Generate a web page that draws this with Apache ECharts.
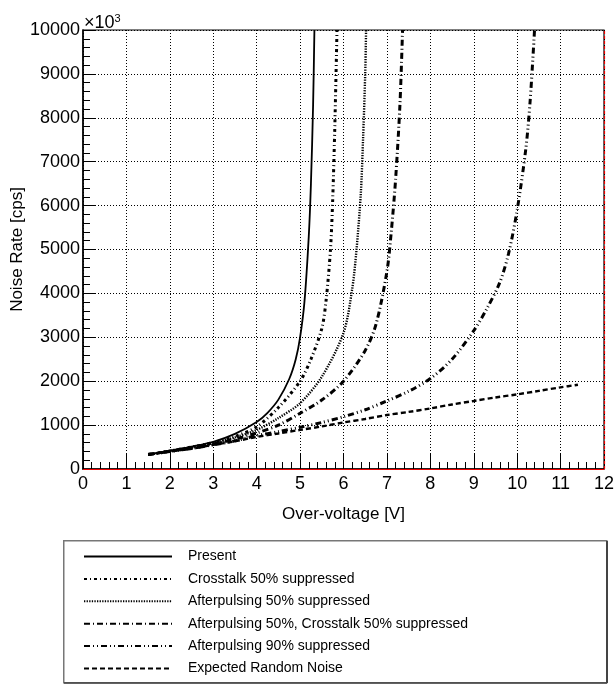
<!DOCTYPE html>
<html><head><meta charset="utf-8">
<script src="https://cdn.jsdelivr.net/npm/echarts@6/dist/echarts.min.js"></script>
<style>html,body{margin:0;padding:0;background:#fff}#c{width:616px;height:684px}</style>
</head><body><div id="c"></div>
<script>
// Data
var seriesNames = ["Present","Crosstalk 50% suppressed","Afterpulsing 50% suppressed","Afterpulsing 50%, Crosstalk 50% suppressed","Afterpulsing 90% suppressed","Expected Random Noise"];
var presentX = [1.5,2.0,2.5,3.0,3.5,4.0,4.25,4.5,4.75,4.9,5.0,5.1,5.2,5.25,5.3,5.33];
var presentY = [330,420,510,620,800,1070,1280,1580,2050,2500,3000,3800,5300,6500,8300,10000];
var crosstalkX = [1.5,2.0,2.5,3.0,3.5,4.0,4.5,5.0,5.25,5.5,5.6,5.7,5.75,5.8,5.85];
var crosstalkY = [330,410,500,600,740,960,1400,2000,2500,3200,3850,5000,6100,7800,10000];
var ap50X = [1.5,2.0,2.5,3.0,3.5,4.0,4.5,5.0,5.5,6.0,6.2,6.3,6.4,6.45,6.5,6.52];
var ap50Y = [330,410,490,590,720,890,1160,1500,2100,3100,4100,5000,6300,7500,9000,10000];
var ap50ct50X = [1.5,2.0,2.5,3.0,3.5,4.0,4.5,5.0,5.5,6.0,6.5,6.75,7.0,7.1,7.2,7.3,7.36];
var ap50ct50Y = [330,400,480,570,680,820,1000,1270,1570,2000,2700,3300,4500,5400,6600,8300,10000];
var ap90X = [1.5,2.0,2.5,3.0,3.5,4.0,4.5,5.0,5.5,6.0,6.5,7.0,7.5,8.0,8.5,9.0,9.3,9.6,9.8,10.0,10.2,10.3,10.4];
var ap90Y = [330,400,470,550,640,760,850,950,1060,1190,1350,1550,1770,2060,2500,3150,3650,4250,4900,5900,7300,8400,10000];
var randomX = [1.5,2.0,2.5,3.0,3.5,4.0,4.5,5.0,5.5,6.0,6.5,7.0,7.5,8.0,8.5,9.0,9.5,10.0,10.5,11.0,11.4];
var randomY = [330,400,460,550,630,730,810,890,970,1060,1140,1230,1300,1380,1470,1550,1630,1700,1780,1860,1920];
var xTicks = {min:0, max:12, interval:1};
var yTicks = {min:0, max:10000, interval:1000};

function pairs(xs, ys){ return xs.map(function(x,i){ return [x, ys[i]]; }); }

var styles = [
  {type:'solid', width:1.8},
  {type:[3,3,1,3], width:3},
  {type:[1.3,1.3], width:2.4},
  {type:[6,3,1,3], width:3},
  {type:[6,3,1,3,1,3], width:3},
  {type:[5,3], width:2.4}
];
var datas = [pairs(presentX,presentY), pairs(crosstalkX,crosstalkY), pairs(ap50X,ap50Y), pairs(ap50ct50X,ap50ct50Y), pairs(ap90X,ap90Y), pairs(randomX,randomY)];

var series = seriesNames.map(function(n,i){
  return {
    name:n, type:'line', data:datas[i], symbol:'none', showSymbol:false,
    smooth:0.3, silent:true, z:3,
    lineStyle:{color:'#000', width:styles[i].width, type:styles[i].type},
    itemStyle:{color:'#000'}
  };
});
series[0].markLine = {
  silent:true, symbol:'none', label:{show:false}, animation:false,
  data:[
    {xAxis:12, lineStyle:{color:'#e00', type:[3,2], width:1.2}},
    {yAxis:0, lineStyle:{color:'#e00', type:'solid', width:1.2}}
  ]
};

var font = 'Liberation Sans, Arial, sans-serif';
var chart = echarts.init(document.getElementById('c'), null, {renderer:'canvas'});
chart.setOption({
  animation:false,
  backgroundColor:'#fff',
  title:{text:'×10{s|3}', left:79, top:8, textStyle:{fontFamily:font, fontSize:18, fontWeight:'normal', color:'#000', rich:{s:{fontSize:11, verticalAlign:'top', padding:[0,0,10,0], fontFamily:font}}}},
  grid:{left:83, right:12, top:30, bottom:215, outerBoundsMode:'none', containLabel:false, show:true, borderColor:'#000', borderWidth:1.2, backgroundColor:'transparent'},
  xAxis:{type:'value', min:xTicks.min, max:xTicks.max, interval:xTicks.interval,
    name:'Over-voltage [V]', nameLocation:'middle', nameGap:37, nameMoveOverlap:false,
    nameTextStyle:{fontFamily:font, fontSize:17, color:'#000'},
    axisLine:{show:true, lineStyle:{color:'#000', width:1.5}},
    axisTick:{show:true, inside:true, length:15, lineStyle:{color:'#000', width:1}},
    minorTick:{show:true, splitNumber:5, length:7, lineStyle:{color:'#000', width:1}},
    axisLabel:{fontFamily:font, fontSize:18, color:'#000', margin:6},
    splitLine:{show:true, lineStyle:{color:'#000', type:[1,2], width:1}}
  },
  yAxis:{type:'value', min:yTicks.min, max:yTicks.max, interval:yTicks.interval,
    name:'Noise Rate [cps]', nameLocation:'middle', nameGap:57, nameRotate:90, nameMoveOverlap:false,
    nameTextStyle:{fontFamily:font, fontSize:17, color:'#000'},
    axisLine:{show:true, lineStyle:{color:'#000', width:1.5}},
    axisTick:{show:true, inside:true, length:13, lineStyle:{color:'#000', width:1}},
    minorTick:{show:true, splitNumber:5, length:7, lineStyle:{color:'#000', width:1}},
    axisLabel:{fontFamily:font, fontSize:18, color:'#000', margin:3, formatter:function(v){return String(v);}},
    splitLine:{show:true, lineStyle:{color:'#000', type:[1,2], width:1}}
  },
  legend:{show:true, orient:'vertical', left:83, top:548.5, height:160, padding:0, itemWidth:88, itemHeight:16, itemGap:6.4,
    selectedMode:false, itemStyle:{opacity:0},
    textStyle:{fontFamily:font, fontSize:14, color:'#000', padding:[0,0,0,11], lineHeight:16},
    data:seriesNames
  },
  graphic:[
    {type:'rect', left:63, top:540, z:-1, shape:{width:543, height:142}, style:{fill:'#fff', stroke:'#777', lineWidth:1.5}},
    {type:'line', z:-1, shape:{x1:607, y1:541, x2:607, y2:683}, style:{stroke:'#444', lineWidth:2}},
    {type:'line', z:-1, shape:{x1:64, y1:683, x2:607, y2:683}, style:{stroke:'#444', lineWidth:1.5}}
  ],
  series:series
});
</script></body></html>
